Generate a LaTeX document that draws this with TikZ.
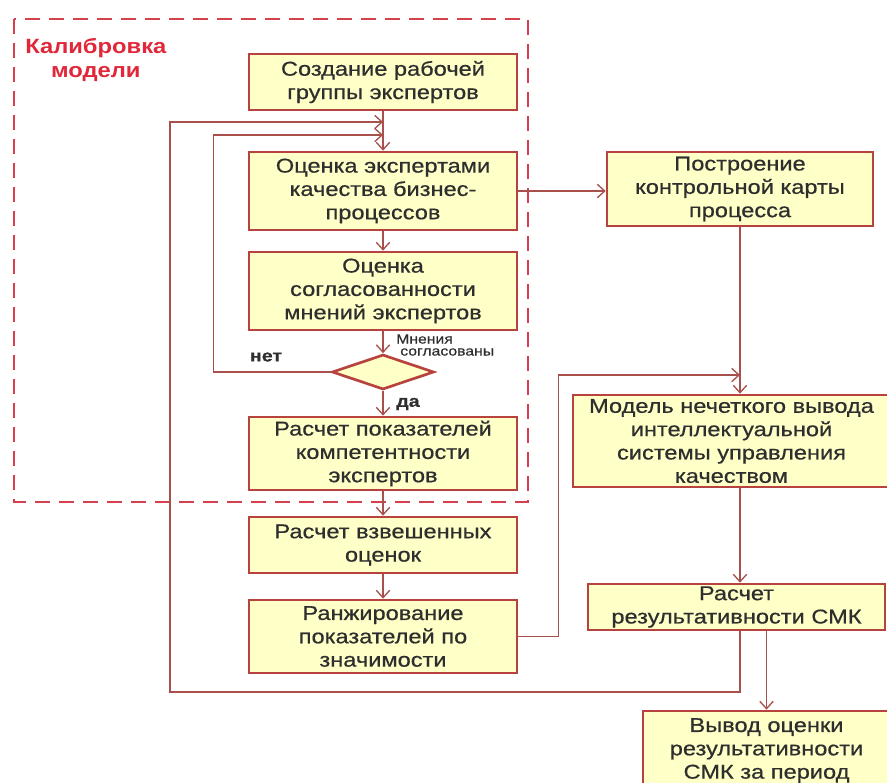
\documentclass[tikz,border=0pt]{standalone}
\usepackage{fontspec}
\setmainfont[FakeStretch=1.18,FakeBold=0.6]{Liberation Sans}
\newfontfamily\titlefont[FakeStretch=1.15]{Liberation Sans}
\usepackage{tikz}
\usetikzlibrary{positioning,arrows.meta,calc,shapes.geometric}
\definecolor{boxfill}{HTML}{FFFFC8}
\definecolor{boxline}{HTML}{B8423E}
\definecolor{flowline}{HTML}{A8504C}
\definecolor{framered}{HTML}{D6404E}
\definecolor{titlered}{HTML}{E0283A}
\definecolor{inktext}{HTML}{2E2E2E}

\begin{document}
\begin{tikzpicture}[
    x=0.75pt, y=-0.75pt,
    >={Straight Barb[length=5.5pt,width=10pt]},
    procbox/.style={draw=boxline, line width=2pt, fill=boxfill, align=center,
        inner sep=1pt, text=inktext, font=\fontsize{15}{17.5}\selectfont},
    decision/.style={diamond, draw=boxline, line width=2pt, fill=boxfill,
        inner sep=0pt, minimum width=76.5pt, minimum height=26.25pt},
    calibframe/.style={draw=framered, line width=1.2pt, dash pattern=on 11pt off 7pt},
    answer/.style={text=inktext, font=\fontsize{12.5}{14}\selectfont\bfseries, inner sep=1pt},
    smallnote/.style={text=inktext, align=left, inner sep=0pt, font=\fontsize{10}{9}\selectfont},
    flow/.style={->, line width=1pt, draw=flowline}
]
\useasboundingbox (0,0) rectangle (887,782);
\clip (0,0) rectangle (887,782);

% Calibration zone, drawn first so the boxes sit on it
\draw[calibframe] (14,19) rectangle (528,502);
\node[anchor=north west, align=center, text=titlered, inner sep=0pt,
      font=\titlefont\fontsize{15.5}{18}\selectfont\bfseries] (calibtitle) at (25,38)
  {Калибровка\\модели};

% Left column
\node[procbox, minimum width=201pt, minimum height=42pt] (create) at (383,82)
  {Создание рабочей\\группы экспертов};
\node[procbox, minimum width=201pt, minimum height=58.5pt] (assess) at (383,191)
  {Оценка экспертами\\качества бизнес-\\процессов};
\node[procbox, minimum width=201pt, minimum height=58.5pt] (consist) at (383,291)
  {Оценка\\согласованности\\мнений экспертов};
\node[decision] (check) at (383,372) {};
\node[procbox, minimum width=201pt, minimum height=54.75pt] (compet) at (383,453.5)
  {Расчет показателей\\компетентности\\экспертов};
\node[procbox, minimum width=201pt, minimum height=42pt] (weigh) at (383,545)
  {Расчет взвешенных\\оценок};
\node[procbox, minimum width=201pt, minimum height=54.75pt] (rank) at (383,636.5)
  {Ранжирование\\показателей по\\значимости};

% Right column
\node[procbox, minimum width=199.5pt, minimum height=55.5pt] (chart) at (740,189)
  {Построение\\контрольной карты\\процесса};
\node[procbox, minimum width=237.75pt, minimum height=69pt] (model) at (731.5,441)
  {Модель нечеткого вывода\\интеллектуальной\\системы управления\\качеством};
\node[procbox, minimum width=222.75pt, minimum height=34.5pt] (smk) at (736.5,607)
  {Расчет\\результативности СМК};
\node[procbox, minimum width=185.25pt, minimum height=59.25pt] (output) at (766.5,750.5)
  {Вывод оценки\\результативности\\СМК за период};

\node[answer] (nolbl) at (266,357) {нет};
\node[answer] (yeslbl) at (408,404) {да};
\node[smallnote, anchor=west] (agreed) at (396,345) {Мнения\\\hspace{3pt}согласованы};

\coordinate (joinhigh) at (383,122);
\coordinate (joinlow) at (383,135);
\coordinate (modelin) at (740,375);

\draw[flow] (create.south) -- (assess.north);
\draw[flow] (assess.south) -- (consist.north);
\draw[flow] (consist.south) -- (check.north);
\draw[flow] (check.south) -- (compet.north);
\draw[flow] (compet.south) -- (weigh.north);
\draw[flow] (weigh.south) -- (rank.north);
\draw[flow] (check.west) -- ++(-117,0) |- (joinlow);
\draw[flow] (assess.east) -- (assess.east -| chart.west);
\draw[flow] (chart.south) -- (chart.south |- model.north);
\draw[flow] (rank.east) -- ++(40,0) |- (modelin);
\draw[flow] (chart.south |- model.south) -- (chart.south |- smk.north);
\draw[flow] (output.north |- smk.south) -- (output.north);
\draw[flow] (chart.south |- smk.south) |- (170,692) |- (joinhigh);
\end{tikzpicture}
\end{document}
